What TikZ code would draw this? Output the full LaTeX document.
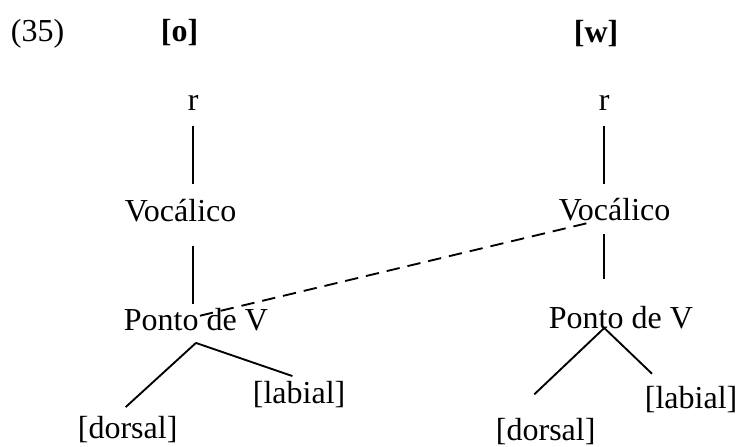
\documentclass[tikz,border=0pt]{standalone}
\usepackage{fontspec}
\setmainfont{Liberation Serif}
\usetikzlibrary{positioning}

\begin{document}
\begin{tikzpicture}[x=0.75pt,y=-0.75pt,line width=1.4pt]
		\tikzstyle{every node}+=[inner sep=0pt,anchor=base west,text height=17pt,text depth=5pt,font=\fontsize{24}{28}\selectfont]
		\tikzstyle{assoc}=[dash pattern=on 10pt off 6pt]
		\useasboundingbox (0,0) rectangle (738,446);
		% heading
		\draw (10,41) node (num) {(35)};
		\draw (160,41) node (lbo) {\bfseries [o]};
		\draw (573,42) node (lbw) {\bfseries [w]};
		% [o]
		\draw (187,110) node (r1) {r};
		\draw (124,221) node (voc1) {Vocálico};
		\draw (123,330) node (pv1) {Ponto de V};
		\draw (252,403) node (lab1) {[labial]};
		\draw (77,438) node (dor1) {[dorsal]};
		% [w]
		\draw (598,110) node (r2) {r};
		\draw (558,220) node (voc2) {Vocálico};
		\draw (548,328) node (pv2) {Ponto de V};
		\draw (644,408) node (lab2) {[labial]};
		\draw (495,440) node (dor2) {[dorsal]};
		% lines
		\draw [shorten <=6pt,shorten >=10pt] (r1.south) -- (r1.south |- voc1.north);
		\draw [shorten <=13pt,shorten >=1.5pt] (r1.south |- voc1.south) -- (r1.south |- pv1.north);
		\draw ([yshift=-4pt]pv1.south) -- ([xshift=-1.5pt,yshift=5.5pt]dor1.north);
		\draw ([yshift=-4pt]pv1.south) -- ([xshift=-5pt,yshift=2.5pt]lab1.north);
		\draw [shorten <=6pt,shorten >=9pt] (r2.south) -- (r2.south |- voc2.north);
		\draw [shorten <=5pt,shorten >=19pt] (r2.south |- voc2.south) -- (r2.south |- pv2.north);
		\draw (r2.south |- pv2.base) -- ([xshift=-8.6pt,yshift=16.5pt]dor2.north);
		\draw (r2.south |- pv2.base) -- ([xshift=6pt,yshift=8pt]lab2.north west);
		\draw [assoc] ([xshift=3pt,yshift=-7pt]pv1.north) -- ([xshift=-19pt,yshift=-2pt]voc2.base);
\end{tikzpicture}
\end{document}
